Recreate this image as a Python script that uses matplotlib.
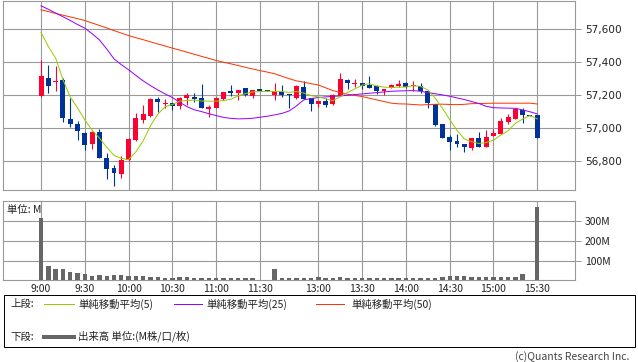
import matplotlib
matplotlib.use('Agg')
import matplotlib.pyplot as plt
from matplotlib.lines import Line2D
from matplotlib.patches import Rectangle

# 5-minute candles, 9:00 - 15:30 (index 31 = morning close, 32 = 12:30)
tick_pos = [0, 6, 12, 18, 24, 30, 38, 44, 50, 56, 62, 68]
tick_labels = ['9:00', '9:30', '10:00', '10:30', '11:00', '11:30',
               '13:00', '13:30', '14:00', '14:30', '15:00', '15:30']

opens = [57198, 57303, 57281, 57293, 57059, 57026, 56970, 56907, 56976, 56820,
         56760, 56723, 56808, 56929, 57053, 57075, 57180, 57147, 57152, 57137,
         57186, 57190, 57186, 57119, 57125, 57180, 57226, 57216, 57242, 57198,
         57238, 57234, 57202, 57220, 57208, 57182, 57250, 57182, 57147, 57166,
         57147, 57198, 57293, 57267, 57273, 57259, 57253, 57228, 57242, 57257,
         57273, 57257, 57253, 57226, 57147, 57024, 56947, 56923, 56907, 56883,
         56939, 56889, 56954, 56966, 57040, 57059, 57109, 57081, 57081]
highs = [57414, 57384, 57378, 57303, 57182, 57042, 56975, 56982, 56996, 56848,
         56778, 56834, 56943, 57093, 57141, 57186, 57192, 57180, 57152, 57188,
         57212, 57216, 57269, 57143, 57192, 57222, 57263, 57232, 57246, 57232,
         57238, 57234, 57275, 57263, 57208, 57263, 57287, 57182, 57166, 57182,
         57206, 57335, 57299, 57299, 57273, 57317, 57263, 57240, 57269, 57293,
         57279, 57287, 57273, 57226, 57147, 57024, 56960, 56964, 56907, 56943,
         56976, 56990, 56996, 57061, 57085, 57125, 57121, 57081, 57081]
lows = [57192, 57216, 57226, 57040, 57006, 56929, 56869, 56873, 56820, 56693,
        56653, 56697, 56802, 56923, 57034, 57069, 57101, 57121, 57111, 57119,
        57139, 57162, 57125, 57069, 57121, 57174, 57196, 57172, 57198, 57186,
        57228, 57228, 57170, 57192, 57125, 57180, 57176, 57107, 57131, 57131,
        57141, 57194, 57236, 57248, 57240, 57246, 57210, 57200, 57242, 57248,
        57242, 57224, 57216, 57121, 57016, 56941, 56871, 56889, 56859, 56871,
        56889, 56887, 56954, 56966, 57028, 57059, 57032, 57077, 56943]
closes = [57317, 57253, 57289, 57061, 57028, 56982, 56897, 56976, 56822, 56752,
          56731, 56808, 56935, 57063, 57087, 57180, 57162, 57156, 57137, 57184,
          57200, 57178, 57125, 57131, 57184, 57220, 57214, 57232, 57202, 57232,
          57228, 57228, 57226, 57202, 57202, 57257, 57178, 57149, 57166, 57143,
          57200, 57299, 57277, 57273, 57257, 57246, 57228, 57240, 57263, 57269,
          57248, 57263, 57228, 57152, 57022, 56943, 56919, 56905, 56889, 56939,
          56889, 56949, 56972, 57044, 57069, 57115, 57081, 57077, 56943]

ma5 = [57580, 57495, 57425, 57295, 57190, 57123, 57051, 56989, 56941, 56886,
       56836, 56818, 56810, 56858, 56925, 57015, 57085, 57130, 57144, 57164,
       57168, 57171, 57165, 57164, 57164, 57168, 57175, 57196, 57210, 57220,
       57222, 57224, 57223, 57223, 57217, 57223, 57213, 57198, 57190, 57179,
       57167, 57191, 57217, 57238, 57261, 57270, 57256, 57249, 57247, 57249,
       57250, 57257, 57254, 57232, 57183, 57122, 57053, 56988, 56936, 56919,
       56908, 56914, 56928, 56959, 56985, 57030, 57056, 57077, 57057]
ma25 = [57741, 57720, 57697, 57675, 57652, 57628, 57606, 57572, 57535, 57480,
        57420, 57385, 57354, 57320, 57287, 57258, 57232, 57208, 57186, 57158,
        57131, 57112, 57101, 57088, 57077, 57066, 57060, 57057, 57058, 57061,
        57067, 57073, 57081, 57090, 57105, 57135, 57172, 57180, 57186, 57190,
        57193, 57196, 57200, 57204, 57208, 57212, 57216, 57220, 57224, 57226,
        57227, 57228, 57224, 57216, 57209, 57202, 57194, 57184, 57174, 57162,
        57150, 57133, 57125, 57123, 57122, 57121, 57111, 57100, 57087]
ma50 = [57717, 57706, 57695, 57684, 57674, 57663, 57652, 57637, 57622, 57607,
        57591, 57576, 57561, 57548, 57536, 57523, 57510, 57498, 57485, 57473,
        57460, 57448, 57435, 57423, 57410, 57400, 57390, 57380, 57369, 57359,
        57349, 57340, 57330, 57315, 57300, 57287, 57279, 57270, 57262, 57245,
        57228, 57217, 57206, 57199, 57192, 57182, 57172, 57162, 57152, 57148,
        57147, 57144, 57141, 57143, 57145, 57146, 57144, 57143, 57145, 57149,
        57150, 57151, 57152, 57152, 57152, 57152, 57152, 57152, 57147]

# volume in millions
volume = [317, 75, 60, 60, 45, 40, 35, 28, 33, 25,
          33, 30, 25, 25, 28, 22, 20, 18, 18, 22,
          20, 17, 15, 15, 15, 15, 15, 15, 15, 15,
          3, 0, 60, 17, 17, 17, 17, 17, 22, 17,
          17, 22, 15, 15, 15, 15, 15, 15, 15, 15,
          15, 15, 15, 17, 17, 20, 27, 27, 25, 20,
          20, 20, 22, 22, 22, 22, 35, 2, 370]

price_ticks = [56800, 57000, 57200, 57400, 57600]
vol_ticks = [100, 200, 300]

W, H = 638, 362
fig = plt.figure(figsize=(W / 100, H / 100), dpi=100)
jp = ['Noto Sans CJK JP', 'DejaVu Sans']


def box(x0, y0, x1, y1):
    return [x0 / W, 1 - y1 / H, (x1 - x0) / W, (y1 - y0) / H]


grid_c = '#999999'
up_c = '#ff0033'
dn_c = '#003399'
px = 0.72

ax = fig.add_axes(box(3, 1, 575, 190.3))
axv = fig.add_axes(box(3, 201, 575, 280.3))

x = list(range(len(closes)))

# candles
for i in x:
    o, h, l, c = opens[i], highs[i], lows[i], closes[i]
    col = up_c if c > o else dn_c
    ax.vlines(i, l, h, color=col, lw=1.1 * px, zorder=3)
    ax.bar(i, max(abs(c - o), 5), bottom=min(o, c), width=0.68,
           color=col, linewidth=0, zorder=3)

ax.plot(x, ma50, color='#ff3300', lw=px, zorder=4)
ax.plot(x, ma25, color='#9900ff', lw=px, zorder=4)
ax.plot(x, ma5, color='#99cc00', lw=px, zorder=5)

# volume
axv.bar(x, volume, width=0.6, color='#666666', linewidth=0, zorder=3)

for a in (ax, axv):
    a.set_xlim(-5.21, 73.17)
    a.set_xticks(tick_pos)
    a.grid(True, color=grid_c, lw=1.1 * px, zorder=0)
    a.set_axisbelow(True)
    for s in a.spines.values():
        s.set_color(grid_c)
        s.set_linewidth(1.1 * px)
    a.yaxis.tick_right()
    a.tick_params(axis='y', direction='out', length=4, width=px,
                  color=grid_c, pad=3, labelcolor='#222222')
    a.tick_params(axis='x', length=0)

ax.set_ylim(56625, 57770)
ax.set_yticks(price_ticks)
ax.set_yticklabels([f'{v:,}' for v in price_ticks], fontsize=7.6)
ax.set_xticklabels([])

axv.set_ylim(5, 400)
axv.set_yticks(vol_ticks)
axv.set_yticklabels([f'{v}M' for v in vol_ticks], fontsize=7.5, family=jp)
axv.set_xticklabels(tick_labels, fontsize=7.5, family=jp, color='#222222')
axv.tick_params(axis='x', pad=3)
axv.text(0.007, 0.885, '単位: M', transform=axv.transAxes, fontsize=7.5,
         family=jp, va='center', ha='left', color='#222222', zorder=5)

# legend box
fig.patches.append(Rectangle((4 / W, 1 - 346.5 / H), 631 / W, 52 / H,
                             transform=fig.transFigure, fill=False,
                             edgecolor='black', lw=px))

y1 = 1 - 304 / H
y2 = 1 - 336.5 / H
txt = dict(fontsize=7.5, family=jp, va='center', ha='left', color='#222222')
fig.text(10 / W, y1, '上段:', **txt)
fig.text(10 / W, y2, '下段:', **txt)
legend = [(44, 74, 78, '#99cc00', '単純移動平均(5)'),
          (174, 202, 206, '#9900ff', '単純移動平均(25)'),
          (316, 344, 351, '#ff3300', '単純移動平均(50)')]
for lx0, lx1, tx, col, label in legend:
    fig.add_artist(Line2D([lx0 / W, lx1 / W], [y1, y1], color=col, lw=px,
                          transform=fig.transFigure))
    fig.text(tx / W, y1, label, **txt)
fig.add_artist(Line2D([44 / W, 74 / W], [y2, y2], color='#666666', lw=4 * px,
                      transform=fig.transFigure))
fig.text(78 / W, y2, '出来高 単位:(M株/口/枚)', **txt)

fig.text(629 / W, 1 - 356.5 / H, '(c)Quants Research Inc.', fontsize=7.5,
         family=jp, va='center', ha='right', color='#444444')

fig.savefig('out.png', dpi=100)
